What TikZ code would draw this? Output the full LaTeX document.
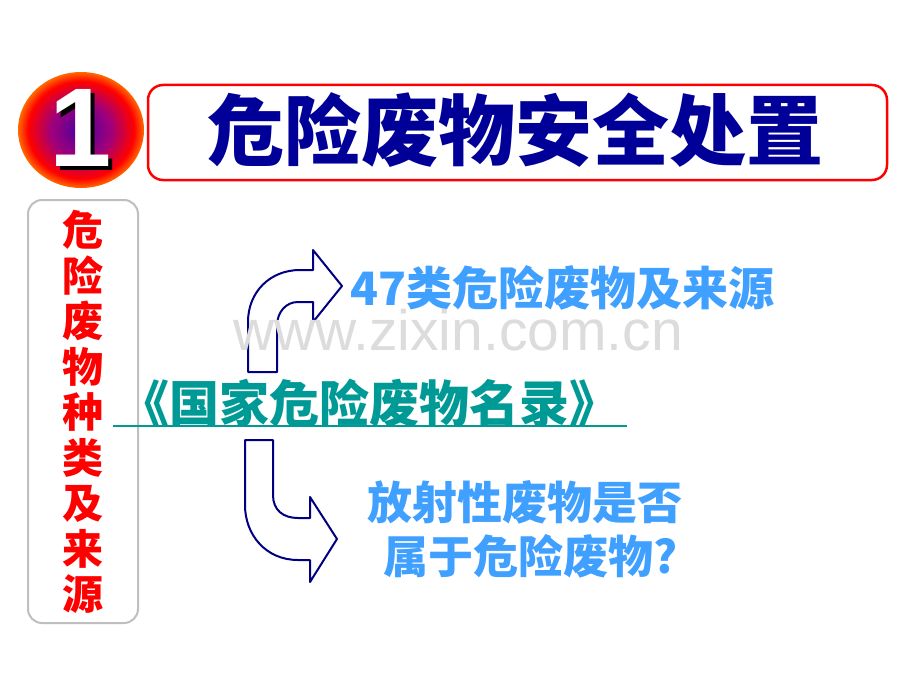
\documentclass[tikz,border=0pt]{standalone}
\usepackage{fontspec}
\setmainfont{Liberation Sans}
\newfontfamily\cjk{Noto Sans CJK SC}
\usetikzlibrary{positioning}
\definecolor{titleblue}{HTML}{000099}
\definecolor{skyblue}{HTML}{3FA0FF}
\definecolor{listteal}{HTML}{009A96}
\definecolor{boxgray}{HTML}{BFBFBF}
\definecolor{arrowblue}{HTML}{000080}
\definecolor{markgray}{HTML}{DCDCDC}
\definecolor{badgein}{HTML}{4A00A0}
\definecolor{badgemid}{HTML}{A0007A}
\definecolor{badgeout}{HTML}{FF6A00}
\pgfdeclareradialshading{badge}{\pgfpoint{0bp}{0bp}}{color(0bp)=(badgein); color(12bp)=(badgemid); color(21bp)=(red); color(25bp)=(badgeout); color(50bp)=(badgeout)}
\tikzset{
  frame/.style={line width=2.5, rounded corners=15},
  bigarrow/.style={draw=arrowblue, fill=white, line width=2, line join=round},
  cjkbold/.style={font=\cjk\bfseries\fontsize{#1}{#1}\selectfont}
}
\begin{document}
\begin{tikzpicture}[x=1pt, y=-1pt]
\useasboundingbox[fill=white] (0,0) rectangle (920,690);
% badge with the number
\shade[shading=badge] (81,130) ellipse [x radius=63, y radius=58];
\node[text=black, font=\bfseries\fontsize{112}{112}\selectfont] (oneshadow) at (85,132) {1};
\node[text=white, font=\bfseries\fontsize{112}{112}\selectfont] (one) at (81,128) {1};
% title
\node[draw=red, frame, minimum width=739, minimum height=95] (titlebox) at (517.5,132.5) {};
\node[text=titleblue, cjkbold=77] (title) at (515,130) {危险废物安全处置};
% left column
\node[draw=boxgray, line width=2, rounded corners=14, minimum width=110, minimum height=423] (sidebox) at (83,411.5) {};
\node[text=red, font=\cjk\bfseries\fontsize{41}{45.5}\selectfont, align=center, inner sep=0] (side) at (83,412)
  {危\\险\\废\\物\\种\\类\\及\\来\\源};
% list name
\node[text=listteal, cjkbold=50, inner sep=0] (list) at (369,403) {《国家危险废物名录》};
\draw[listteal, line width=2] ([xshift=-6, yshift=2]list.south west) coordinate (ulstart)
  -- ([xshift=8, yshift=2]list.south east) coordinate (ulend);
% arrows
\draw[bigarrow] (248,372) -- (248,322) .. controls (248,292) and (270,270) .. (300,270)
  -- (313,270) -- (313,250) -- (342,286) -- (313,322) -- (313,302) -- (298,302)
  .. controls (286,302) and (277,312) .. (277,326) -- (277,372) -- cycle;
\draw[bigarrow] (245,440) -- (273,440) -- (273,495) .. controls (273,510) and (283,518) .. (298,518)
  -- (310,518) -- (310,497) -- (337,539) -- (310,582) -- (310,560) -- (298,560)
  .. controls (266,560) and (245,535) .. (245,505) -- cycle;
% targets
\node[text=skyblue, cjkbold=46, anchor=west, inner sep=0] (kinds) at (350,288) {47类危险废物及来源};
\node[text=skyblue, cjkbold=45, inner sep=0] (radio) at (525,502) {放射性废物是否};
\node[text=skyblue, cjkbold=45, inner sep=0] (radio2) at (531,556) {属于危险废物?};
% watermark
\node[text=markgray, font=\fontsize{57}{57}\selectfont, inner sep=0] (mark) at (458,330) {www.zixin.com.cn};
\end{tikzpicture}
\end{document}
